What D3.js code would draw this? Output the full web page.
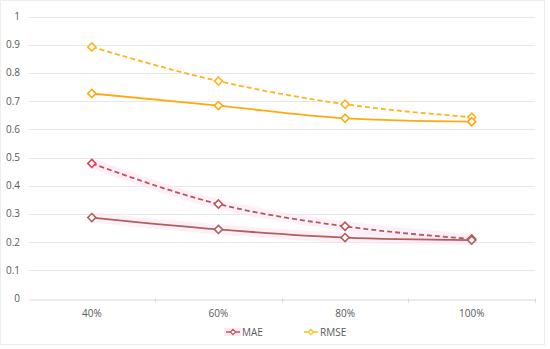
<!DOCTYPE html>
<html>
<head>
<meta charset="utf-8">
<script src="https://cdn.jsdelivr.net/npm/d3@7"></script>
<style>
  body { margin: 0; background: #fff; }
  svg { font-family: "Open Sans", "Noto Sans", sans-serif; }
</style>
</head>
<body>
<svg width="550" height="349"></svg>
<script>
var categories = ["40%", "60%", "80%", "100%"];
var maeSolid = [0.287, 0.245, 0.216, 0.207];
var maeDashed = [0.479, 0.335, 0.256, 0.211];
var rmseSolid = [0.727, 0.684, 0.639, 0.627];
var rmseDashed = [0.892, 0.771, 0.689, 0.643];
var yTicks = [0, 0.1, 0.2, 0.3, 0.4, 0.5, 0.6, 0.7, 0.8, 0.9, 1];

var svg = d3.select("svg"),
  width = +svg.attr("width"),
  height = +svg.attr("height");

var plotLeft = 28.5, plotRight = 535, plotTop = 16.5, plotBottom = 298.5;

// outer frame
svg.append("rect")
  .attr("x", 0.5).attr("y", 0.5)
  .attr("width", 544).attr("height", 344)
  .attr("fill", "none").attr("stroke", "#ececec");

var x = d3.scaleBand().domain(categories).range([plotLeft, plotRight]);
var y = d3.scaleLinear().domain([0, 1]).range([plotBottom, plotTop]);

// gridlines
svg.append("g")
  .selectAll("line")
  .data(yTicks.slice(1))
  .enter()
  .append("line")
  .attr("x1", plotLeft).attr("x2", plotRight)
  .attr("y1", function (d) { return Math.round(y(d)) + 0.5; })
  .attr("y2", function (d) { return Math.round(y(d)) + 0.5; })
  .attr("stroke", "#e8e8e8");

// y labels
svg.append("g")
  .selectAll("text")
  .data(yTicks)
  .enter()
  .append("text")
  .attr("x", 20)
  .attr("y", function (d) { return y(d); })
  .attr("dy", "0.35em")
  .attr("text-anchor", "end")
  .attr("font-size", 10)
  .attr("fill", "#595959")
  .text(function (d) { return d; });

// x axis
var xAxis = svg.append("g")
  .attr("transform", "translate(0," + (Math.round(plotBottom) + 0.5) + ")")
  .call(d3.axisBottom(x).tickSize(0).tickPadding(10));
xAxis.select(".domain").attr("stroke", "#d9d9d9");
xAxis.selectAll("text").attr("font-size", 10).attr("fill", "#595959")
  .attr("font-family", "Open Sans, Noto Sans, sans-serif");
svg.append("g")
  .selectAll("line")
  .data(categories)
  .enter()
  .append("line")
  .attr("x1", function (d, i) { return Math.round(plotLeft + x.bandwidth() * (i + 1)) + 0.5; })
  .attr("x2", function (d, i) { return Math.round(plotLeft + x.bandwidth() * (i + 1)) + 0.5; })
  .attr("y1", plotBottom).attr("y2", plotBottom + 4)
  .attr("stroke", "#d9d9d9");

var defs = svg.append("defs");
var grad = defs.append("linearGradient")
  .attr("id", "maeGrad")
  .attr("gradientUnits", "userSpaceOnUse")
  .attr("x1", x("40%")).attr("x2", x("80%")).attr("y1", 0).attr("y2", 0);
grad.append("stop").attr("offset", "0%").attr("stop-color", "#ec3a55");
grad.append("stop").attr("offset", "100%").attr("stop-color", "#a86058");

var line = d3.line()
  .x(function (d, i) { return x(categories[i]) + x.bandwidth() / 2; })
  .y(function (d) { return y(d); })
  .curve(d3.curveMonotoneX);

// faint pink glow behind MAE series
[maeSolid, maeDashed].forEach(function (s) {
  svg.append("path")
    .datum(s)
    .attr("d", line)
    .attr("fill", "none")
    .attr("stroke", "#fce4f2")
    .attr("stroke-width", 10)
    .attr("opacity", 0.55);
});

var series = [
  { values: rmseDashed, color: "#ffb41f", dash: "5,3", marker: "#ffb41f" },
  { values: rmseSolid, color: "#ffaa10", dash: null, marker: "#ffaa10" },
  { values: maeDashed, color: "url(#maeGrad)", dash: "5,3", marker: "#b55a55" },
  { values: maeSolid, color: "#b0605a", dash: null, marker: "#a9665e" }
];

series.forEach(function (s) {
  svg.append("path")
    .datum(s.values)
    .attr("d", line)
    .attr("fill", "none")
    .attr("stroke", s.color)
    .attr("stroke-width", 1.8)
    .attr("stroke-dasharray", s.dash);

  svg.append("g")
    .selectAll("path")
    .data(s.values)
    .enter()
    .append("path")
    .attr("d", d3.symbol().type(d3.symbolDiamond2).size(42))
    .attr("transform", function (d, i) {
      return "translate(" + (x(categories[i]) + x.bandwidth() / 2) + "," + y(d) + ")";
    })
    .attr("fill", "#fff")
    .attr("stroke", function (d, i) {
      return (s.values === maeDashed && i === 0) ? "#ec3a55" : s.marker;
    })
    .attr("stroke-width", 1.6);
});

// legend
var legend = [
  { name: "MAE", color: "#b0605a", x: 226 },
  { name: "RMSE", color: "#ffc21a", x: 304 }
];
var lg = svg.append("g").selectAll("g").data(legend).enter().append("g")
  .attr("transform", function (d) { return "translate(" + d.x + ",332)"; });
lg.filter(function (d) { return d.name === "MAE"; })
  .append("rect")
  .attr("x", -2).attr("y", -4).attr("width", 17).attr("height", 8)
  .attr("fill", "#fde6f2");
lg.append("line")
  .attr("x1", 0).attr("x2", 14).attr("y1", 0).attr("y2", 0)
  .attr("stroke", function (d) { return d.color; })
  .attr("stroke-width", 1.5);
lg.append("path")
  .attr("d", d3.symbol().type(d3.symbolDiamond2).size(18))
  .attr("transform", "translate(7,0)")
  .attr("fill", "#fff")
  .attr("stroke", function (d) { return d.color; })
  .attr("stroke-width", 1.2);
lg.append("text")
  .attr("x", 16).attr("dy", "0.35em")
  .attr("font-size", 10)
  .attr("fill", "#595959")
  .text(function (d) { return d.name; });
</script>
</body>
</html>
